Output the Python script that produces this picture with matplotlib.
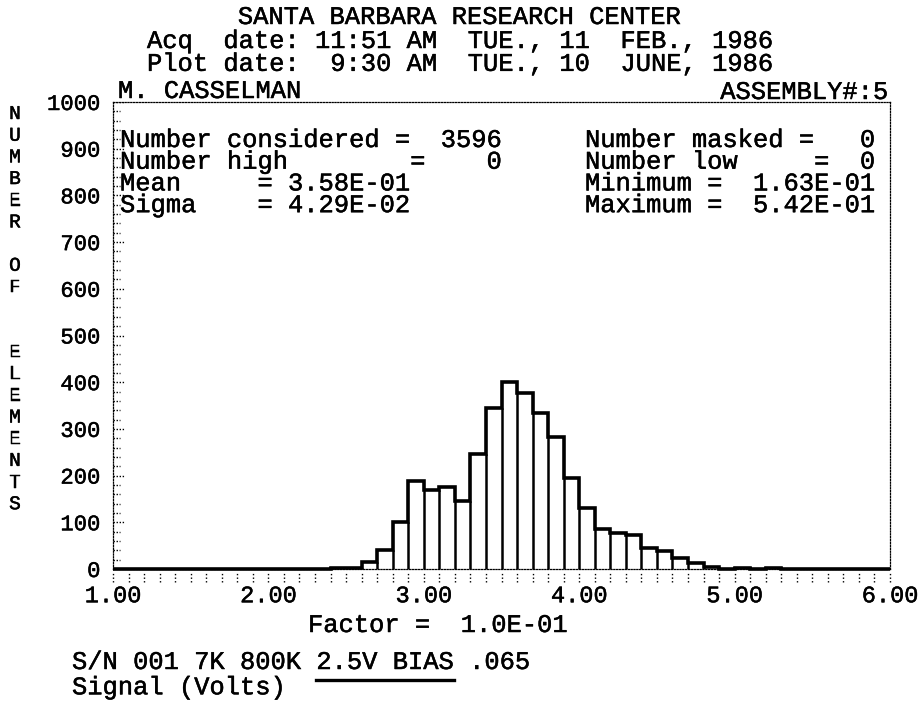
import numpy as np
import matplotlib
matplotlib.use("Agg")
import matplotlib.pyplot as plt
import matplotlib.transforms as mtransforms
import matplotlib.patheffects as pe
from matplotlib.lines import Line2D

# ---- data -------------------------------------------------------------
# element counts per 0.1-wide bin of the factor axis, bins starting at 1.0
counts = [0, 0, 0, 0, 0, 0, 1, 0, 0, 1,
          0, 1, 1, 1, 2, 3, 15, 41, 101, 189,
          169, 176, 146, 247, 344, 400, 377, 335, 283, 195,
          131, 86, 78, 72, 46, 38, 23, 12, 4, 1,
          3, 1, 3, 1, 1, 0, 0, 0, 0, 0]
bin_start = 1.0
bin_width = 0.1

x_ticks = [1.0, 2.0, 3.0, 4.0, 5.0, 6.0]
x_tick_labels = ["1.00", "2.00", "3.00", "4.00", "5.00", "6.00"]
y_ticks = [0, 100, 200, 300, 400, 500, 600, 700, 800, 900, 1000]
y_tick_labels = ["0", "100", "200", "300", "400", "500", "600", "700", "800", "900", "1000"]

title = "SANTA BARBARA RESEARCH CENTER"
date_lines = ["Acq  date: 11:51 AM  TUE., 11  FEB., 1986",
              "Plot date:  9:30 AM  TUE., 10  JUNE, 1986"]
operator = "M. CASSELMAN"
assembly = "ASSEMBLY#:5"
stats_left = ["Number considered =  3596",
              "Number high        =    0",
              "Mean     = 3.58E-01",
              "Sigma    = 4.29E-02"]
stats_right = ["Number masked =   0",
               "Number low     =  0",
               "Minimum =  1.63E-01",
               "Maximum =  5.42E-01"]
y_title = "NUMBER OF  ELEMENTS"
x_title = "Factor =  1.0E-01"
footer_lines = ["S/N 001 7K 800K 2.5V BIAS .065",
                "Signal (Volts)"]
underlined = "2.5V BIAS"

# ---- figure -----------------------------------------------------------
W, H, DPI = 922, 703, 100
FONT = "Liberation Mono"
WEIGHT = "normal"
PITCH = 15.27                      # character advance in pixels
BODY = PITCH / 0.6 * 72 / DPI      # point size giving that advance
PEN = [pe.withStroke(linewidth=0.35, foreground="black")]   # plotter pen width

fig = plt.figure(figsize=(W / DPI, H / DPI), dpi=DPI)
fig.patch.set_facecolor("white")


def ftext(x, y, s, size=BODY, ha="left", va="center", **kw):
    """Place text using pixel coordinates measured from the top-left."""
    return fig.text(x / W, 1 - y / H, s, fontsize=size, ha=ha, va=va,
                    family=FONT, weight=WEIGHT, color="black",
                    path_effects=PEN, **kw)


L, R, T, B = 113, 890, 102, 569
ax = fig.add_axes([L / W, 1 - B / H, (R - L) / W, (B - T) / H])
ax.set_xlim(1.0, 6.0)
ax.set_ylim(0, 1000)
ax.set_facecolor("white")

for sp in ax.spines.values():
    sp.set_linestyle((0, (1, 1.3)))
    sp.set_linewidth(0.9)
    sp.set_color("black")

ax.set_xticks(x_ticks)
ax.set_xticklabels(x_tick_labels, family=FONT, weight=WEIGHT, fontsize=17)
ax.set_yticks(y_ticks)
ax.set_yticklabels(y_tick_labels, family=FONT, weight=WEIGHT, fontsize=16)
for lab in ax.get_xticklabels() + ax.get_yticklabels():
    lab.set_path_effects(PEN)
ax.tick_params(axis="both", length=0)
ax.tick_params(axis="x", pad=11)
ax.tick_params(axis="y", pad=9)

# dotted tick marks: below the x axis every bin, inside the y axis every 20
edges = bin_start + bin_width * np.arange(len(counts) + 1)
tx = mtransforms.blended_transform_factory(ax.transData, ax.transAxes)
ax.vlines(edges, -0.028, -0.006, transform=tx, colors="black",
          linestyles=(0, (1, 1.6)), linewidth=1.0, clip_on=False)
ty = mtransforms.blended_transform_factory(ax.transAxes, ax.transData)
y_minor = np.arange(0, 1001, 20)
tick_len = np.where(y_minor % 100 == 0, 0.016, 0.009)
ax.hlines(y_minor, 0, tick_len, transform=ty, colors="black",
          linestyles=(0, (1, 1.2)), linewidth=1.0)

# histogram outline with separators between neighbouring bins
counts_arr = np.asarray(counts, dtype=float)
ax.stairs(counts_arr, edges, baseline=0, color="black", linewidth=2.6,
          clip_on=False, zorder=3)
sep = np.minimum(counts_arr[:-1], counts_arr[1:])
ax.vlines(edges[1:-1], 0, sep, colors="black", linewidth=1.8, zorder=3)

# ---- texts ------------------------------------------------------------
ftext(459, 17, title, ha="center")
ftext(147, 29, "\n".join(date_lines), va="top", linespacing=0.94)
ftext(118, 91, operator)
ftext(888, 92, assembly, ha="right")

ftext(120, 128, "\n".join(stats_left), va="top", linespacing=0.88)
ftext(585, 128, "\n".join(stats_right), va="top", linespacing=0.88)

fig.text(15 / W, 1 - 106 / H, "\n".join(y_title), fontsize=14, ha="center",
         va="top", family=FONT, weight=WEIGHT, linespacing=1.36,
         multialignment="center", path_effects=PEN)

ftext(308, 625, x_title)
x0 = 72
ftext(x0, 650, "\n".join(footer_lines), va="top", linespacing=1.07)
i0 = footer_lines[0].index(underlined)
fig.add_artist(Line2D([(x0 + i0 * PITCH) / W,
                       (x0 + (i0 + len(underlined)) * PITCH) / W],
                      [1 - 680 / H, 1 - 680 / H],
                      color="black", linewidth=2.4))

fig.savefig("out.png", dpi=DPI, facecolor="white")
